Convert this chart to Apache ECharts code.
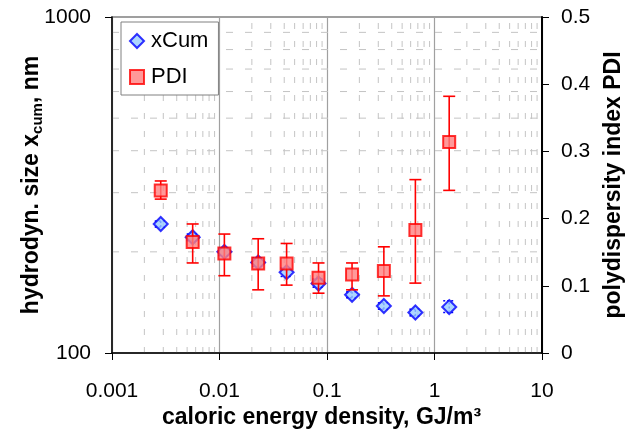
<!DOCTYPE html>
<html>
<head>
<meta charset="utf-8">
<script src="https://cdn.jsdelivr.net/npm/echarts@6/dist/echarts.min.js"></script>
<style>html,body{margin:0;padding:0;background:#fff;overflow:hidden;}#c{width:628px;height:435px;}</style>
</head>
<body>
<div id="c"></div>
<script>
// ---- data ----
const energy = [0.00284, 0.00563, 0.0111, 0.0229, 0.0421, 0.0834, 0.171, 0.338, 0.664, 1.37];
const xCum   = [242, 221, 200, 186, 174, 161, 149, 138, 132, 137];
const xCumLo = [237, 216, 195, 181, 169, 157, 146, 135, 129, 132];
const xCumHi = [247, 226, 205, 192, 179, 166, 152, 141, 135, 143];
const pdi    = [0.242, 0.165, 0.148, 0.133, 0.133, 0.112, 0.117, 0.122, 0.183, 0.314];
const pdiLo  = [0.229, 0.134, 0.115, 0.094, 0.101, 0.089, 0.094, 0.085, 0.104, 0.242];
const pdiHi  = [0.256, 0.192, 0.177, 0.170, 0.163, 0.134, 0.134, 0.158, 0.258, 0.382];
const xTickLabels = ['0.001', '0.01', '0.1', '1', '10'];
const yLeftTickLabels = ['100', '1000'];
const yRightTickLabels = ['0', '0.1', '0.2', '0.3', '0.4', '0.5'];

// minor grid positions (2..9 within each decade)
const minorX = [];
for (let k = -3; k <= 0; k++) for (let d = 2; d <= 9; d++) minorX.push(+(d * Math.pow(10, k)).toPrecision(3));
const minorY = [];
for (let d = 2; d <= 9; d++) minorY.push(d * 100);

const FONT = "'Liberation Sans', Arial, sans-serif";

function errRender(color, dash) {
  return function (params, api) {
    const x = api.value(0);
    const lo = api.coord([x, api.value(1)]);
    const hi = api.coord([x, api.value(2)]);
    const w = 6;
    const st = { stroke: color, lineWidth: dash ? 1.5 : 1.6, lineDash: dash ? [2, 2] : null };
    return {
      type: 'group',
      children: [
        { type: 'line', shape: { x1: lo[0], y1: lo[1], x2: hi[0], y2: hi[1] }, style: st },
        { type: 'line', shape: { x1: lo[0] - w, y1: lo[1], x2: lo[0] + w, y2: lo[1] }, style: st },
        { type: 'line', shape: { x1: hi[0] - w, y1: hi[1], x2: hi[0] + w, y2: hi[1] }, style: st }
      ]
    };
  };
}

const chart = echarts.init(document.getElementById('c'), null, { renderer: 'canvas', width: 628, height: 435 });
chart.setOption({
  animation: false,
  backgroundColor: '#fff',
  textStyle: { fontFamily: FONT },
  grid: { left: 112, right: 86, top: 17, bottom: 82, containLabel: false, outerBoundsMode: 'none', show: true, borderColor: '#808080', borderWidth: 1.5, backgroundColor: 'transparent' },
  legend: {
    orient: 'vertical', left: 121, top: 22,
    data: [{ name: 'xCum', icon: 'diamond' }, { name: 'PDI', icon: 'rect' }],
    itemWidth: 14, itemHeight: 14, itemGap: 12,
    padding: [7, 10, 6, 8],
    backgroundColor: '#fff', borderColor: '#808080', borderWidth: 1, borderRadius: 0,
    textStyle: { fontFamily: FONT, fontSize: 22, color: '#000', lineHeight: 24, padding: [0, 0, 0, 2] },
    selectedMode: false
  },
  xAxis: {
    type: 'log', logBase: 10, min: 0.001, max: 10,
    name: 'caloric energy density, GJ/m³', nameLocation: 'middle', nameGap: 53, nameMoveOverlap: false,
    nameTextStyle: { fontFamily: FONT, fontSize: 23, fontWeight: 'bold', color: '#000', padding: [0, 11, 0, 0] },
    axisLine: { show: true, lineStyle: { color: '#000', width: 1.5 } },
    axisTick: { show: true, inside: false, length: 7, lineStyle: { color: '#000' } },
    axisLabel: { fontFamily: FONT, fontSize: 21, color: '#000', margin: 28, formatter: (v, i) => xTickLabels[i] },
    splitLine: { show: true, lineStyle: { color: '#a0a0a0', width: 1.2 } },
    minorTick: { show: false }, minorSplitLine: { show: false }
  },
  yAxis: [
    {
      type: 'log', logBase: 10, min: 100, max: 1000, position: 'left',
      name: '{a|hydrodyn. size x}{b|cum}{a|, nm}', nameLocation: 'middle', nameGap: 69, nameRotate: 90, nameMoveOverlap: false,
      nameTextStyle: {
        color: '#000',
        rich: {
          a: { fontFamily: FONT, fontSize: 23, fontWeight: 'bold', color: '#000', lineHeight: 26, verticalAlign: 'bottom' },
          b: { fontFamily: FONT, fontSize: 15, fontWeight: 'bold', color: '#000', lineHeight: 15, verticalAlign: 'bottom', padding: [0, 0, -2, 0] }
        }
      },
      axisLine: { show: true, lineStyle: { color: '#000', width: 1.5 } },
      axisTick: { show: true, inside: false, length: 7, lineStyle: { color: '#000' } },
      axisLabel: { fontFamily: FONT, fontSize: 21, color: '#000', margin: 21, formatter: (v, i) => yLeftTickLabels[i] },
      splitLine: { show: false }
    },
    {
      type: 'value', min: 0, max: 0.5, interval: 0.1, position: 'right',
      name: 'polydispersity index PDI', nameLocation: 'middle', nameGap: 60, nameRotate: 90, nameMoveOverlap: false,
      nameTextStyle: { fontFamily: FONT, fontSize: 23, fontWeight: 'bold', color: '#000' },
      axisLine: { show: true, lineStyle: { color: '#000', width: 2 } },
      axisTick: { show: true, inside: false, length: 7, lineStyle: { color: '#000' } },
      axisLabel: { fontFamily: FONT, fontSize: 21, color: '#000', margin: 19, formatter: (v, i) => yRightTickLabels[i] },
      splitLine: { show: false }
    }
  ],
  series: [
    {
      type: 'custom', name: 'gridX', xAxisIndex: 0, yAxisIndex: 0, z: 0, silent: true,
      data: minorX.map(v => [v, 100]),
      renderItem: function (params, api) {
        const v = api.value(0);
        const p1 = api.coord([v, 100]);
        const p2 = api.coord([v, 1000]);
        return { type: 'line', shape: { x1: p1[0], y1: p1[1], x2: p2[0], y2: p2[1] }, style: { stroke: '#c4c4c4', lineWidth: 1, lineDash: [6, 12] } };
      }
    },
    {
      type: 'custom', name: 'gridY', xAxisIndex: 0, yAxisIndex: 0, z: 0, silent: true,
      data: minorY.map(v => [0.001, v]),
      renderItem: function (params, api) {
        const v = api.value(1);
        const p1 = api.coord([0.001, v]);
        const p2 = api.coord([10, v]);
        return { type: 'line', shape: { x1: p1[0], y1: p1[1], x2: p2[0], y2: p2[1] }, style: { stroke: '#c4c4c4', lineWidth: 1, lineDash: [7, 12] } };
      }
    },
    {
      type: 'custom', name: 'xCumErr', xAxisIndex: 0, yAxisIndex: 0, z: 3, silent: true,
      encode: { x: 0, y: [1, 2] },
      data: energy.map((e, i) => [e, xCumLo[i], xCumHi[i]]),
      renderItem: errRender('#0000ff', true)
    },
    {
      type: 'scatter', name: 'xCum', xAxisIndex: 0, yAxisIndex: 0, z: 4,
      symbol: 'diamond', symbolSize: 14,
      itemStyle: { color: '#99ccff', borderColor: '#0000ff', borderWidth: 2 },
      data: energy.map((e, i) => [e, xCum[i]])
    },
    {
      type: 'custom', name: 'pdiErr', xAxisIndex: 0, yAxisIndex: 1, z: 5, silent: true,
      encode: { x: 0, y: [1, 2] },
      data: energy.map((e, i) => [e, pdiLo[i], pdiHi[i]]),
      renderItem: errRender('#ff0000', false)
    },
    {
      type: 'scatter', name: 'PDI', xAxisIndex: 0, yAxisIndex: 1, z: 6,
      symbol: 'rect', symbolSize: 12,
      itemStyle: { color: '#ff8080', borderColor: '#ff0000', borderWidth: 2 },
      data: energy.map((e, i) => [e, pdi[i]])
    }
  ]
});
</script>
</body>
</html>
